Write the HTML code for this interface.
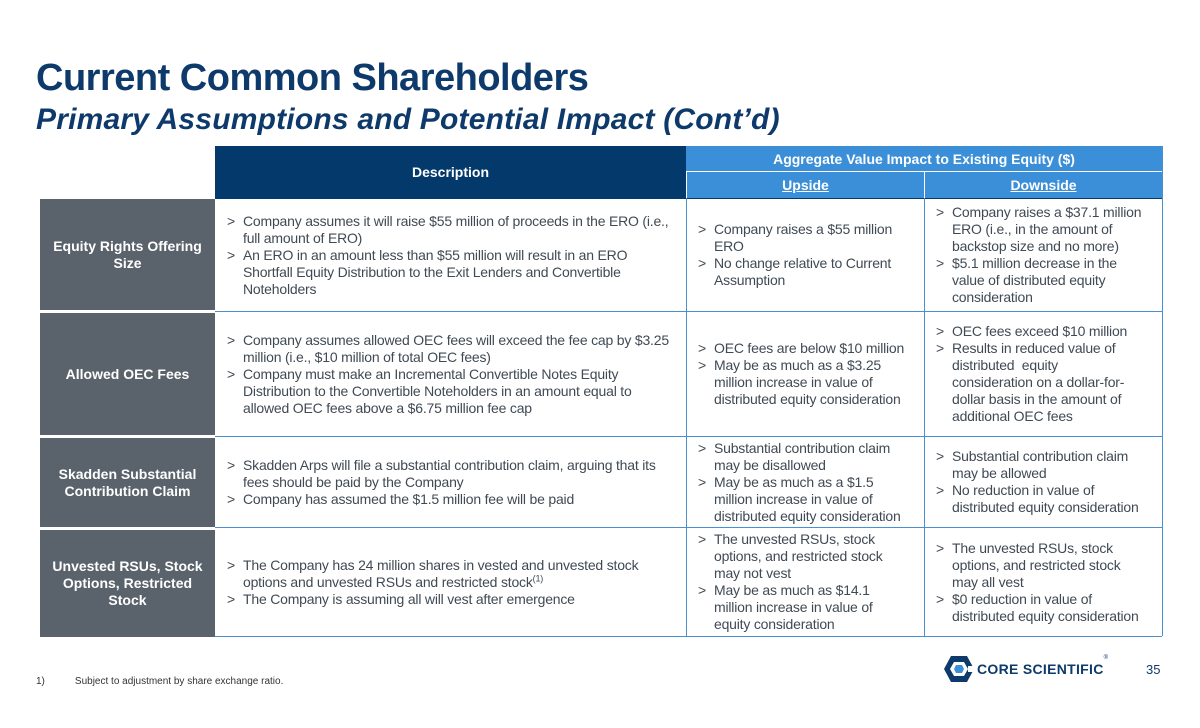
<!DOCTYPE html>
<html><head><meta charset="utf-8">
<style>
*{margin:0;padding:0;box-sizing:border-box}
body{width:1200px;height:728px;background:#fff;font-family:"Liberation Sans",sans-serif;position:relative;overflow:hidden;color:#3c4650}
.t1{position:absolute;left:36px;top:57px;font-size:38px;font-weight:bold;color:#0d3a6b;letter-spacing:-0.5px}
.t2{position:absolute;left:36px;top:103px;font-size:30px;font-weight:bold;font-style:italic;color:#0d3a6b;letter-spacing:0.2px}
.c{position:absolute;display:flex;flex-direction:column;justify-content:center}
.lab{background:#5a636c;color:#fff;font-weight:bold;font-size:14px;text-align:center;align-items:center;line-height:17px;border-bottom:3px solid #fff}
.txt{font-size:14px;line-height:17px;white-space:nowrap;letter-spacing:-0.2px;padding-left:12px;color:#404a54}
.b{position:relative;padding-left:16px}
.b:before{content:">";position:absolute;left:0}
.hl{position:absolute;left:686px;width:476px;height:1px;background:#4a8fd0}
.vl{position:absolute;width:1px;background:#4a8fd0}
</style></head><body>
<div class="t1">Current Common Shareholders</div>
<div class="t2">Primary Assumptions and Potential Impact (Cont’d)</div>

<div class="c" style="left:215px;top:146px;width:471px;height:52px;background:#033a6b;color:#fff;font-weight:bold;font-size:14px;align-items:center">Description</div>
<div class="c" style="left:686px;top:146px;width:476px;height:25px;background:#3a8fd8;color:#fff;font-weight:bold;font-size:14px;align-items:center">Aggregate Value Impact to Existing Equity ($)</div>
<div class="c" style="left:687px;top:172px;width:237px;height:26px;background:#3a8fd8;color:#fff;font-weight:bold;font-size:14px;align-items:center;text-decoration:underline">Upside</div>
<div class="c" style="left:925px;top:172px;width:237px;height:26px;background:#3a8fd8;color:#fff;font-weight:bold;font-size:14px;align-items:center;text-decoration:underline">Downside</div>

<div class="hl" style="left:215px;width:947px;top:198px;background:#033a6b;height:1px"></div>
<div class="hl" style="left:215px;width:947px;top:311px"></div>
<div class="hl" style="left:215px;width:947px;top:436px"></div>
<div class="hl" style="left:215px;width:947px;top:527px"></div>
<div class="hl" style="left:215px;width:947px;top:636px"></div>
<div class="vl" style="left:686px;top:198px;height:438px"></div>
<div class="vl" style="left:924px;top:198px;height:438px"></div>
<div class="vl" style="left:1162px;top:146px;height:490px"></div>

<!-- row 1 -->
<div class="c lab" style="left:40px;top:199px;width:175px;height:114px">Equity Rights Offering<br>Size</div>
<div class="c txt" style="left:215px;top:199px;width:471px;height:112px"><div class="b">Company assumes it will raise $55 million of proceeds in the ERO (i.e.,<br>full amount of ERO)</div><div class="b">An ERO in an amount less than $55 million will result in an ERO<br>Shortfall Equity Distribution to the Exit Lenders and Convertible<br>Noteholders</div></div>
<div class="c txt" style="left:686px;top:199px;width:238px;height:112px"><div class="b">Company raises a $55 million<br>ERO</div><div class="b">No change relative to Current<br>Assumption</div></div>
<div class="c txt" style="left:924px;top:199px;width:238px;height:112px"><div class="b">Company raises a $37.1 million<br>ERO (i.e., in the amount of<br>backstop size and no more)</div><div class="b">$5.1 million decrease in the<br>value of distributed equity<br>consideration</div></div>

<!-- row 2 -->
<div class="c lab" style="left:40px;top:313px;width:175px;height:125px">Allowed OEC Fees</div>
<div class="c txt" style="left:215px;top:312px;width:471px;height:124px"><div class="b">Company assumes allowed OEC fees will exceed the fee cap by $3.25<br>million (i.e., $10 million of total OEC fees)</div><div class="b">Company must make an Incremental Convertible Notes Equity<br>Distribution to the Convertible Noteholders in an amount equal to<br>allowed OEC fees above a $6.75 million fee cap</div></div>
<div class="c txt" style="left:686px;top:312px;width:238px;height:124px"><div class="b">OEC fees are below $10 million</div><div class="b">May be as much as a $3.25<br>million increase in value of<br>distributed equity consideration</div></div>
<div class="c txt" style="left:924px;top:312px;width:238px;height:124px"><div class="b">OEC fees exceed $10 million</div><div class="b">Results in reduced value of<br>distributed &nbsp;equity<br>consideration on a dollar-for-<br>dollar basis in the amount of<br>additional OEC fees</div></div>

<!-- row 3 -->
<div class="c lab" style="left:40px;top:438px;width:175px;height:92px">Skadden Substantial<br>Contribution Claim</div>
<div class="c txt" style="left:215px;top:437px;width:471px;height:90px"><div class="b">Skadden Arps will file a substantial contribution claim, arguing that its<br>fees should be paid by the Company</div><div class="b">Company has assumed the $1.5 million fee will be paid</div></div>
<div class="c txt" style="left:686px;top:437px;width:238px;height:90px"><div class="b">Substantial contribution claim<br>may be disallowed</div><div class="b">May be as much as a $1.5<br>million increase in value of<br>distributed equity consideration</div></div>
<div class="c txt" style="left:924px;top:437px;width:238px;height:90px"><div class="b">Substantial contribution claim<br>may be allowed</div><div class="b">No reduction in value of<br>distributed equity consideration</div></div>

<!-- row 4 -->
<div class="c lab" style="left:40px;top:530px;width:175px;height:107px;border-bottom:0">Unvested RSUs, Stock<br>Options, Restricted<br>Stock</div>
<div class="c txt" style="left:215px;top:528px;width:471px;height:108px"><div class="b">The Company has 24 million shares in vested and unvested stock<br>options and unvested RSUs and restricted stock<sup style="font-size:9px;line-height:0">(1)</sup></div><div class="b">The Company is assuming all will vest after emergence</div></div>
<div class="c txt" style="left:686px;top:528px;width:238px;height:108px"><div class="b">The unvested RSUs, stock<br>options, and restricted stock<br>may not vest</div><div class="b">May be as much as $14.1<br>million increase in value of<br>equity consideration</div></div>
<div class="c txt" style="left:924px;top:528px;width:238px;height:108px"><div class="b">The unvested RSUs, stock<br>options, and restricted stock<br>may all vest</div><div class="b">$0 reduction in value of<br>distributed equity consideration</div></div>

<div style="position:absolute;left:36px;top:676px;font-size:10px;color:#333">1)<span style="margin-left:30px">Subject to adjustment by share exchange ratio.</span></div>
<div style="position:absolute;left:944px;top:655px;display:flex;align-items:center">
<svg width="30" height="28" viewBox="0 0 30 28"><polygon points="7,1 23,1 30,14 23,27 7,27 0,14" fill="#0d3a6b"/><polygon points="10,7 20,7 24,14 20,21 10,21 6,14" fill="#fff"/><polygon points="12,10 18,10 20,14 18,18 12,18 10,14" fill="#3a8fd8"/><rect x="24" y="11" width="6" height="6" fill="#fff"/></svg>
<span style="margin-left:3px;font-weight:bold;font-size:14px;color:#0d3a6b;letter-spacing:0.3px">CORE SCIENTIFIC</span><sup style="font-size:6px;color:#0d3a6b;align-self:flex-start">®</sup></div>
<div style="position:absolute;left:1146px;top:662px;font-size:13px;color:#0d3a6b">35</div>
</body></html>
